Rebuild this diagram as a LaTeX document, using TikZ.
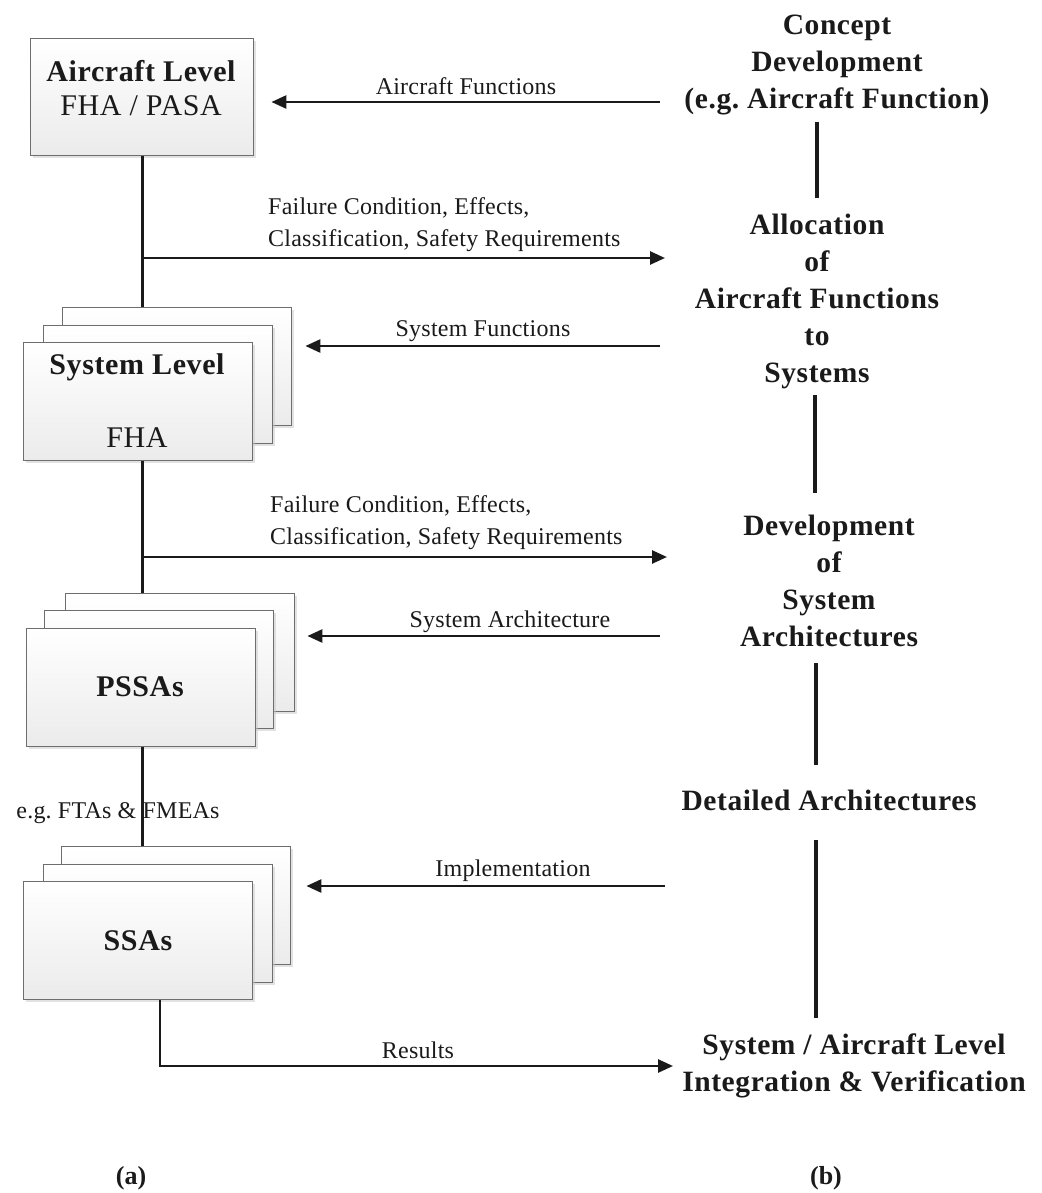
\documentclass[tikz,border=0pt]{standalone}
\usepackage{fontspec}
\setmainfont{Liberation Serif}
\newfontfamily\boxfont[LetterSpace=2]{Liberation Serif}
\newfontfamily\stagefont[LetterSpace=2]{Liberation Serif}
\newfontfamily\labfont[LetterSpace=1]{Liberation Serif}
\usetikzlibrary{arrows.meta,shadows}
\definecolor{boxgray}{HTML}{6E6E6E}
\definecolor{boxbottom}{HTML}{EBEBEB}
\definecolor{ink}{HTML}{1A1A1A}
\frenchspacing
\begin{document}
\begin{tikzpicture}[x=1pt,y=-1pt,
  sheet/.style={draw=boxgray, line width=1.4pt, top color=white, bottom color=boxbottom,
    drop shadow={shadow xshift=2pt,shadow yshift=-2pt,fill=black!22},
    anchor=north west, inner sep=0pt, minimum width=229pt, minimum height=118pt},
  boxtxt/.style={inner sep=0pt, text=ink, font={\boxfont\fontsize{30}{36}\selectfont}},
  stagetxt/.style={inner sep=0pt, align=center, text=ink, font={\stagefont\bfseries\fontsize{29.5}{37}\selectfont}},
  labtxt/.style={inner sep=0pt, text=ink, font={\labfont\fontsize{24}{32}\selectfont}},
  spine/.style={draw=ink, line width=3.2pt},
  flow/.style={draw=ink, line width=2.6pt, -{Triangle[length=15pt,width=13pt]}},
  legend/.style={inner sep=0pt, text=ink, font={\bfseries\fontsize{26}{30}\selectfont}}]

\fill[white] (0,0) rectangle (1041,1193);
\useasboundingbox (0,0) rectangle (1041,1193);

% ---------- left column: safety assessment ----------
\node[sheet, minimum width=223pt, minimum height=117pt] (ac) at (30,38) {};
\node[boxtxt, font={\boxfont\bfseries\fontsize{30}{36}\selectfont}] (acT) at (141,71) {Aircraft Level};
\node[boxtxt] (acS) at (141,106) {FHA / PASA};

\node[sheet] (sys3) at (62,307) {};
\node[sheet] (sys2) at (43,325) {};
\node[sheet] (sys1) at (23,342) {};
\node[boxtxt, font={\boxfont\bfseries\fontsize{30}{36}\selectfont}] (sysT) at (137,367) {System Level};
\node[boxtxt] (sysS) at (137,438) {FHA};

\node[sheet] (pssa3) at (65,593) {};
\node[sheet] (pssa2) at (44,610) {};
\node[sheet] (pssa1) at (26,628) {};
\node[boxtxt, font={\boxfont\bfseries\fontsize{30}{36}\selectfont}] (pssaT) at (140,687) {PSSAs};

\node[sheet] (ssa3) at (61,846) {};
\node[sheet] (ssa2) at (43,864) {};
\node[sheet] (ssa1) at (23,881) {};
\node[boxtxt, font={\boxfont\bfseries\fontsize{30}{36}\selectfont}] (ssaT) at (138,941) {SSAs};

% vertical spine between the levels
\draw[spine] (ac.south) -- (ac.south |- sys3.north);
\draw[spine] (ac.south |- sys1.south) -- (ac.south |- pssa3.north);
\draw[spine] (ac.south |- pssa1.south) -- (ac.south |- ssa3.north);
\node[labtxt] (fta) at (118,813) {e.g. FTAs \& FMEAs};

% ---------- right column: development process ----------
\node[stagetxt] (concept) at (837,65) {Concept\\Development\\(e.g. Aircraft Function)};
\node[stagetxt] (alloc) at (817,301) {Allocation\\of\\Aircraft Functions\\to\\Systems};
\node[stagetxt] (devarch) at (829,581) {Development\\of\\System\\Architectures};
\node[stagetxt] (detail) at (829,800) {Detailed Architectures};
\node[stagetxt] (integ) at (854,1066) {System / Aircraft Level\\Integration \& Verification};

\coordinate (v1a) at (817,122); \coordinate (v1b) at (817,198);
\coordinate (v2a) at (815,395); \coordinate (v2b) at (815,493);
\coordinate (v3a) at (816,663); \coordinate (v3b) at (816,765);
\coordinate (v4a) at (816,840); \coordinate (v4b) at (816,1018);
\draw[spine] (v1a) -- (v1b);
\draw[spine] (v2a) -- (v2b);
\draw[spine] (v3a) -- (v3b);
\draw[spine] (v4a) -- (v4b);

% ---------- information exchanged between the columns ----------
\coordinate (afIn) at (660,102);
\draw[flow, shorten >=17pt] (afIn) -- (ac.east |- afIn);
\node[labtxt] (afL) at (466,86) {Aircraft Functions};

\coordinate (fc1) at (141.5,258); \coordinate (fc1End) at (665,258);
\draw[flow] (fc1) -- (fc1End);
\node[labtxt, align=left, anchor=west] (fc1L) at (268,225) {Failure Condition, Effects,\\Classification, Safety Requirements};

\coordinate (sfIn) at (660,346);
\draw[flow, shorten >=13pt] (sfIn) -- (sys3.east |- sfIn);
\node[labtxt] (sfL) at (483,331) {System Functions};

\coordinate (fc2) at (141.5,557); \coordinate (fc2End) at (667,557);
\draw[flow] (fc2) -- (fc2End);
\node[labtxt, align=left, anchor=west] (fc2L) at (270,523) {Failure Condition, Effects,\\Classification, Safety Requirements};

\coordinate (saIn) at (660,636);
\draw[flow, shorten >=12pt] (saIn) -- (pssa3.east |- saIn);
\node[labtxt] (saL) at (510,622) {System Architecture};

\coordinate (imIn) at (665,886);
\draw[flow, shorten >=15pt] (imIn) -- (ssa3.east |- imIn);
\node[labtxt] (imL) at (513,871) {Implementation};

\coordinate (resCorner) at (160,1066); \coordinate (resEnd) at (673,1066);
\draw[flow] (ssa1.south -| resCorner) -- (resCorner) -- (resEnd);
\node[labtxt] (resL) at (418,1050) {Results};

% ---------- sub-figure captions ----------
\node[legend] (capA) at (131,1178) {(a)};
\node[legend] (capB) at (826,1178) {(b)};
\end{tikzpicture}
\end{document}
